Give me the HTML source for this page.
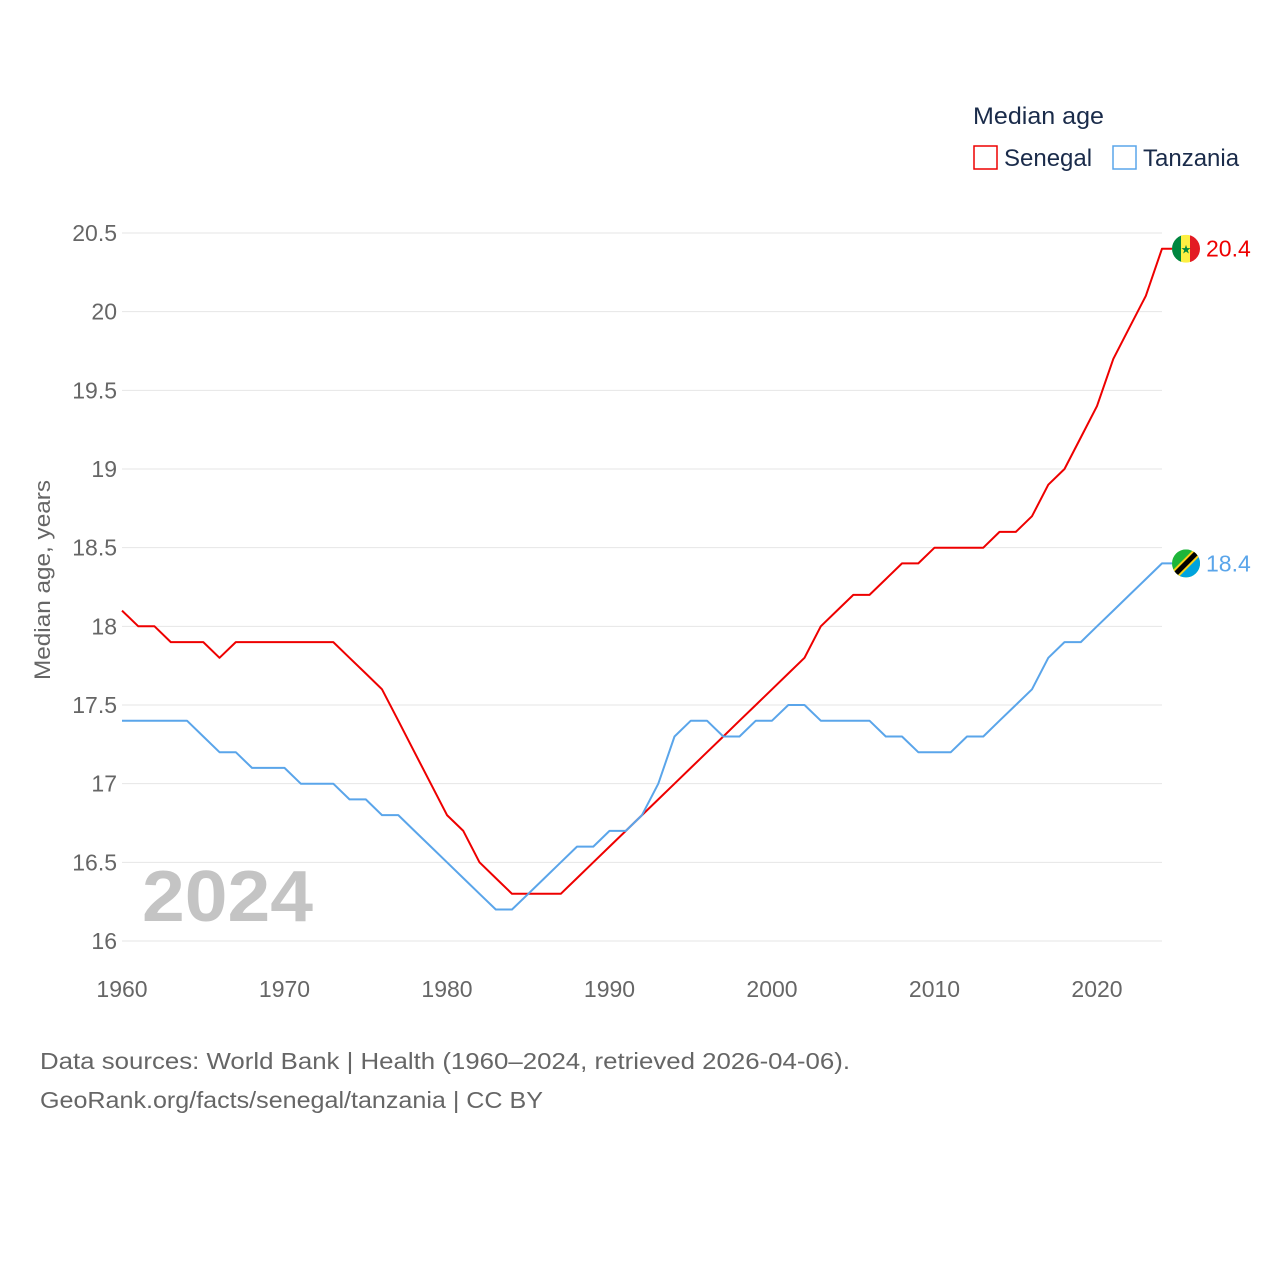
<!DOCTYPE html>
<html><head><meta charset="utf-8">
<style>
html,body{margin:0;padding:0;background:#fff;}
body{width:1280px;height:1280px;overflow:hidden;font-family:"Liberation Sans",sans-serif;}
</style></head>
<body>
<svg id="chart" width="1280" height="1280" xmlns="http://www.w3.org/2000/svg" font-family="Liberation Sans, sans-serif">
  <g id="grid"></g>
  <g id="yticks"></g>
  <g id="xticks"></g>
  <text x="50" y="580" transform="rotate(-90 50 580)" text-anchor="middle" font-size="22" fill="#666" textLength="200" lengthAdjust="spacingAndGlyphs">Median age, years</text>
  <text x="142" y="921" font-size="72" font-weight="bold" fill="#c4c4c4" textLength="171" lengthAdjust="spacingAndGlyphs">2024</text>
  <g id="series"></g>
  <g>
    <text x="973" y="124" font-size="24" fill="#1a2b4a" textLength="131" lengthAdjust="spacingAndGlyphs">Median age</text>
    <g>
      <rect x="974" y="146" width="23" height="23" fill="none" stroke="#ee0000" stroke-width="1.5"/>
      <text x="1004" y="166" font-size="24" fill="#1a2b4a">Senegal</text>
    </g>
    <g>
      <rect x="1113" y="146" width="23" height="23" fill="none" stroke="#5aa5ea" stroke-width="1.5"/>
      <text x="1143" y="166" font-size="24" fill="#1a2b4a">Tanzania</text>
    </g>
  </g>
  <text x="40" y="1069" font-size="23" fill="#666" textLength="810" lengthAdjust="spacingAndGlyphs">Data sources: World Bank | Health (1960–2024, retrieved 2026-04-06).</text>
  <text x="40" y="1108" font-size="23" fill="#666" textLength="503" lengthAdjust="spacingAndGlyphs">GeoRank.org/facts/senegal/tanzania | CC BY</text>
</svg>
<script>
const years = [];
for (let y = 1960; y <= 2024; y++) years.push(y);
const senegal = [18.1,18.0,18.0,17.9,17.9,17.9,17.8,17.9,17.9,17.9,17.9,17.9,17.9,17.9,17.8,17.7,17.6,17.4,17.2,17.0,16.8,16.7,16.5,16.4,16.3,16.3,16.3,16.3,16.4,16.5,16.6,16.7,16.8,16.9,17.0,17.1,17.2,17.3,17.4,17.5,17.6,17.7,17.8,18.0,18.1,18.2,18.2,18.3,18.4,18.4,18.5,18.5,18.5,18.5,18.6,18.6,18.7,18.9,19.0,19.2,19.4,19.7,19.9,20.1,20.4];
const tanzania = [17.4,17.4,17.4,17.4,17.4,17.3,17.2,17.2,17.1,17.1,17.1,17.0,17.0,17.0,16.9,16.9,16.8,16.8,16.7,16.6,16.5,16.4,16.3,16.2,16.2,16.3,16.4,16.5,16.6,16.6,16.7,16.7,16.8,17.0,17.3,17.4,17.4,17.3,17.3,17.4,17.4,17.5,17.5,17.4,17.4,17.4,17.4,17.3,17.3,17.2,17.2,17.2,17.3,17.3,17.4,17.5,17.6,17.8,17.9,17.9,18.0,18.1,18.2,18.3,18.4];
const yTicks = [16,16.5,17,17.5,18,18.5,19,19.5,20,20.5];
const xTicks = [1960,1970,1980,1990,2000,2010,2020];

const NS = "http://www.w3.org/2000/svg";
const X = v => 122 + (v - 1960) * (1040 / 64);
const Y = v => 941 - (v - 16) * (708 / 4.5);
function mk(tag, attrs, parent) {
  const e = document.createElementNS(NS, tag);
  for (const k in attrs) e.setAttribute(k, attrs[k]);
  parent.appendChild(e);
  return e;
}
const grid = document.getElementById('grid'), yt = document.getElementById('yticks'), xt = document.getElementById('xticks'), ser = document.getElementById('series');
yTicks.forEach(v => {
  const l = mk('line', {x1:122, x2:1162, y1:Y(v), y2:Y(v), stroke:'#e6e6e6', 'stroke-width':1}, grid);
  
  
  const t = mk('text', {x:117, y:Y(v)+8, 'text-anchor':'end', 'font-size':23, fill:'#666'}, yt);
  t.textContent = String(v);
  
  
});
xTicks.forEach(v => {
  const t = mk('text', {x:X(v), y:997, 'text-anchor':'middle', 'font-size':23, fill:'#666'}, xt);
  t.textContent = String(v);
  
  
});
function line(vals, color, name) {
  let d = vals.map((v, i) => (i ? 'L' : 'M') + X(years[i]).toFixed(1) + ' ' + Y(v).toFixed(1)).join(' ');
  const last = vals[vals.length - 1];
  d += ' L' + (X(2024) + 10) + ' ' + Y(last).toFixed(1);
  const p = mk('path', {d, fill:'none', stroke:color, 'stroke-width':2, 'stroke-linejoin':'round'}, ser);
  
  
  const t = mk('text', {x:1206, y:Y(last)+8, 'font-size':23, fill:color}, ser);
  t.textContent = last.toFixed(1);
  
  
  return Y(last);
}
const ys = line(senegal, '#ee0000', 'senegal');
const yz = line(tanzania, '#5aa5ea', 'tanzania');
const fs = mk('g', {}, ser);


const cp1 = mk('clipPath', {id:'c1'}, fs);
mk('circle',{cx:1186,cy:ys,r:14},cp1);
const g1 = mk('g', {'clip-path':'url(#c1)'}, fs);
mk('rect',{x:1172,y:ys-14,width:10,height:28,fill:'#00853f'},g1);
mk('rect',{x:1181,y:ys-14,width:10,height:28,fill:'#fdef42'},g1);
mk('rect',{x:1190,y:ys-14,width:10,height:28,fill:'#e31b23'},g1);
const st = mk('text',{x:1186,y:ys+5,'text-anchor':'middle','font-size':12,fill:'#00853f'},g1); st.textContent='★';
const fz = mk('g', {}, ser);


const cp = mk('clipPath', {id:'c2'}, fz);
mk('circle',{cx:1186,cy:yz,r:14},cp);
const g2 = mk('g', {'clip-path':'url(#c2)'}, fz);
mk('rect',{x:1172,y:yz-14,width:28,height:28,fill:'#1eb53a'},g2);
mk('polygon',{points:`1200,${yz-14} 1200,${yz+14} 1172,${yz+14}`,fill:'#00a3dd'},g2);
mk('line',{x1:1172,y1:yz+14,x2:1200,y2:yz-14,stroke:'#fcd116',"stroke-width":9},g2);
mk('line',{x1:1172,y1:yz+14,x2:1200,y2:yz-14,stroke:'#000',"stroke-width":5},g2);
</script>
</body></html>
